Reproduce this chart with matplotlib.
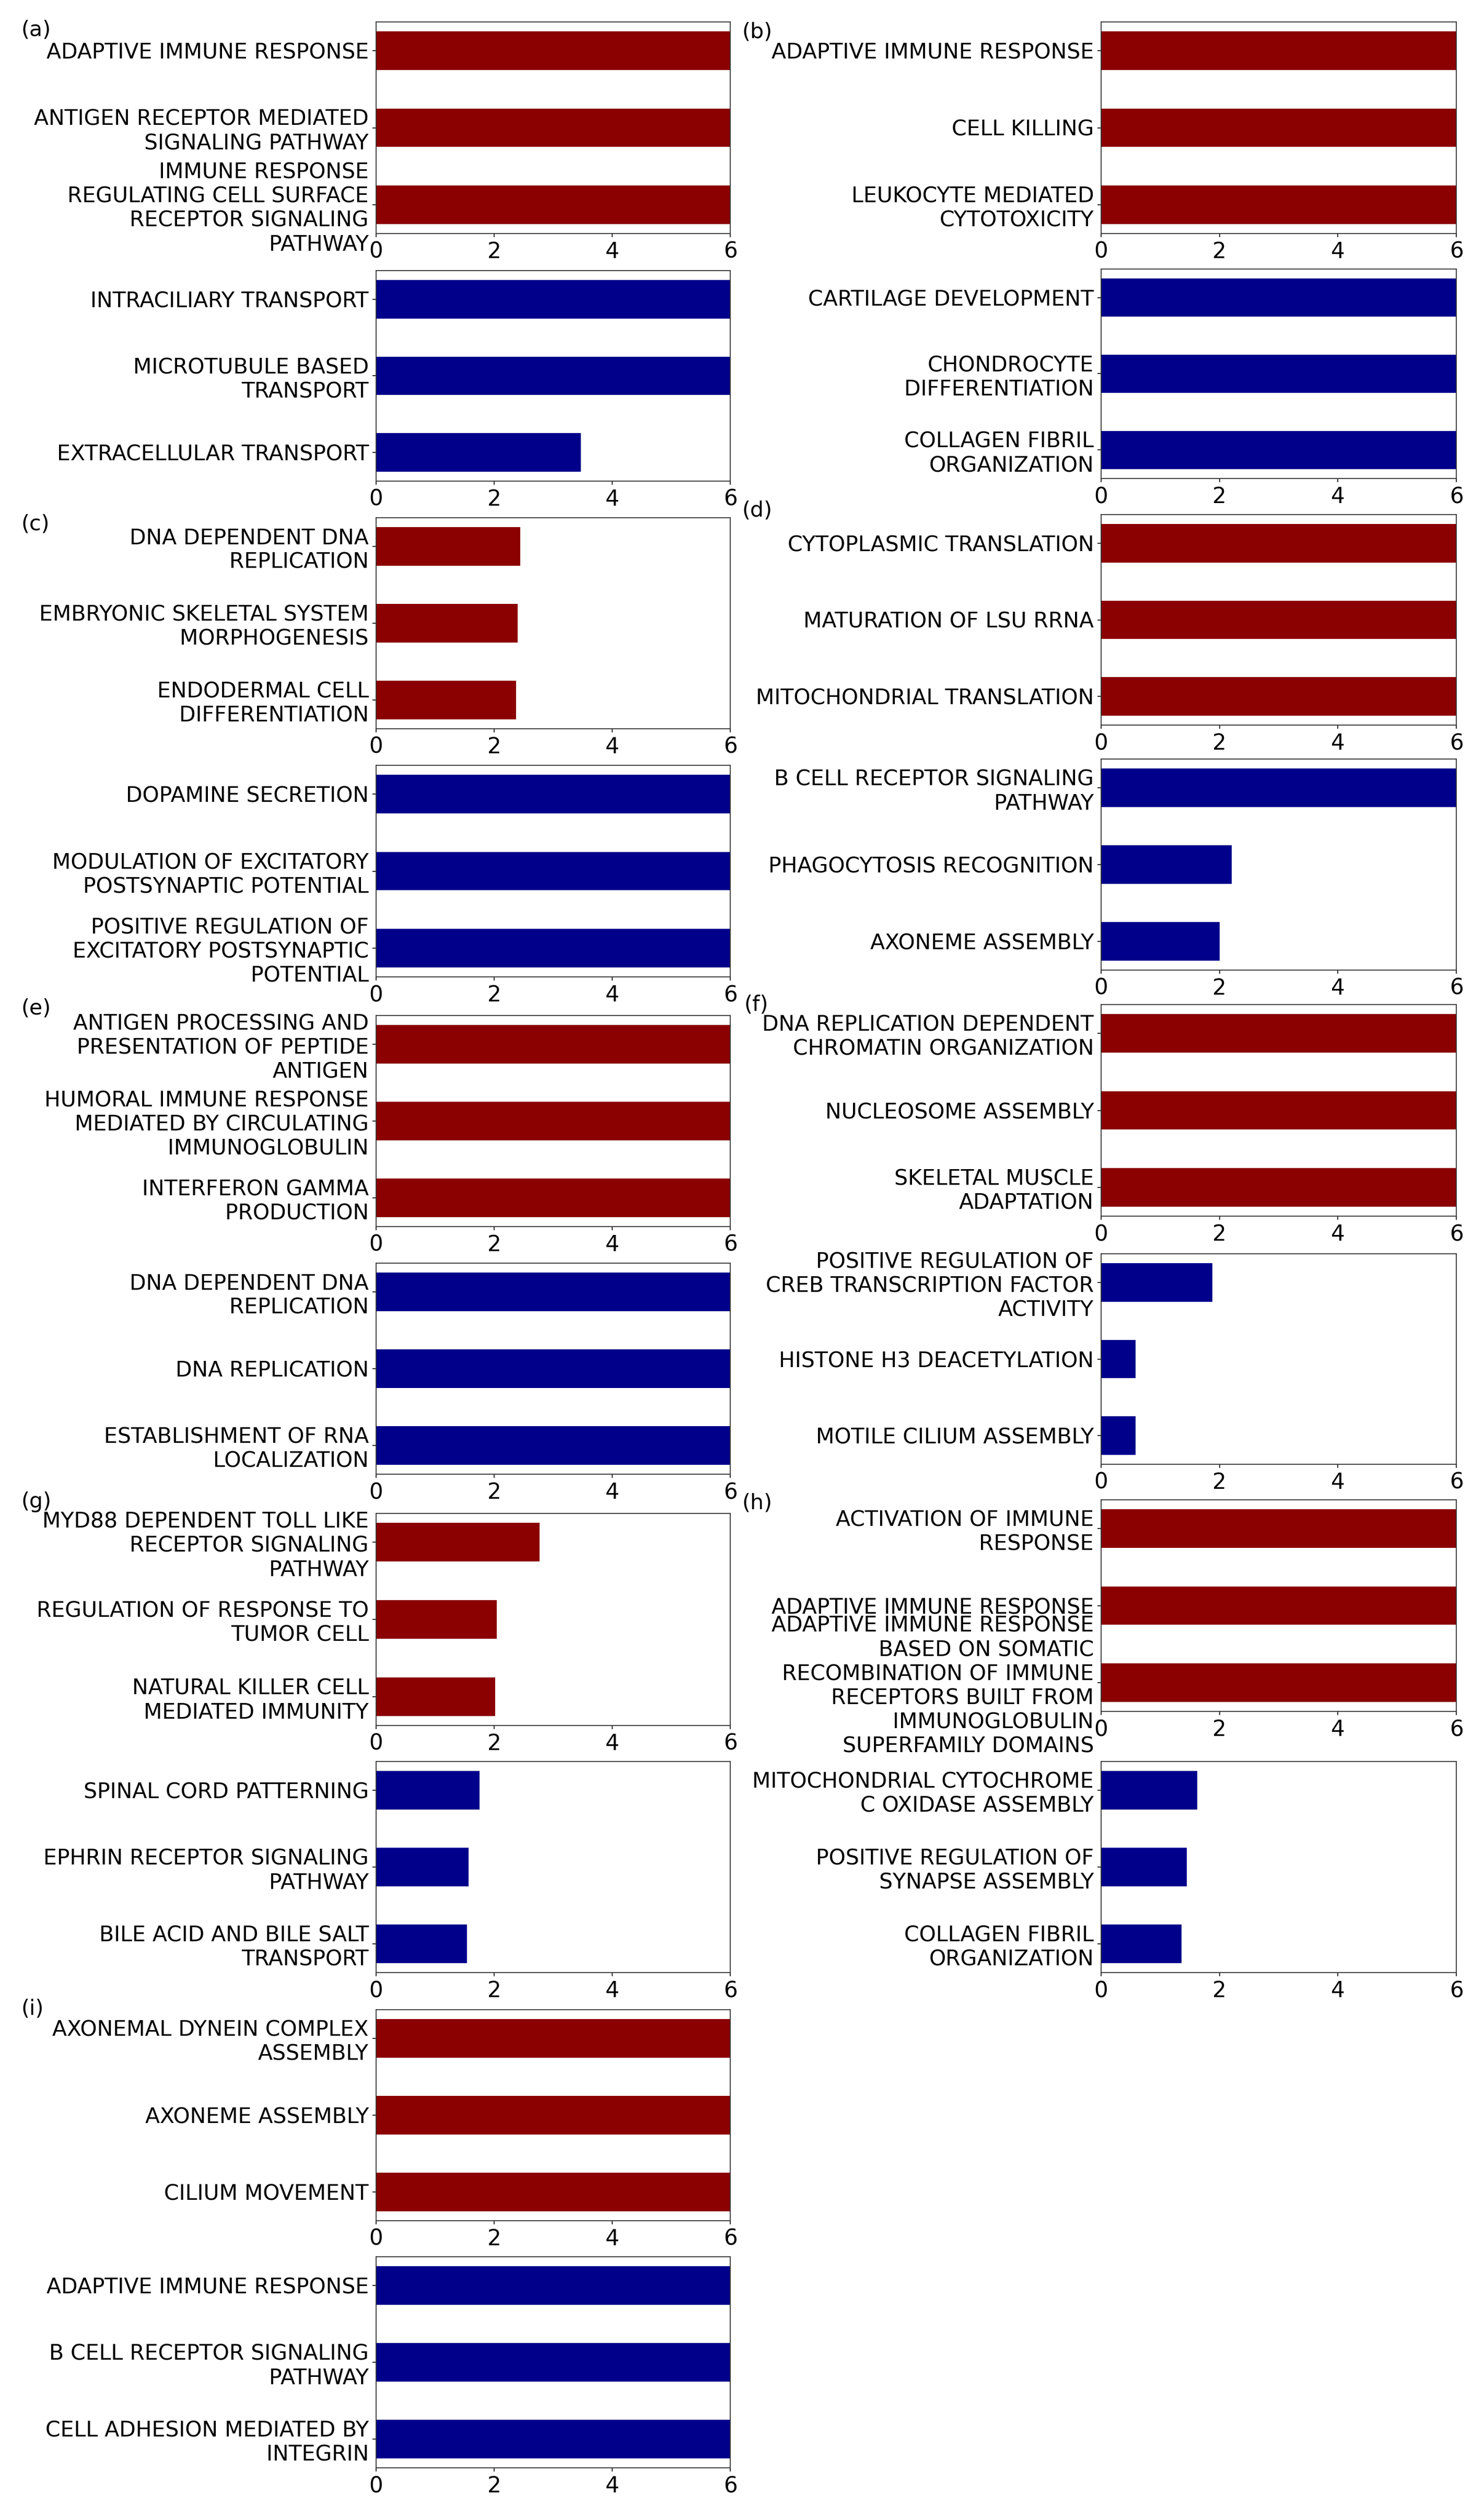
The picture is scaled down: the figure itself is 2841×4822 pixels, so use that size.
import textwrap
import matplotlib
matplotlib.use("Agg")
import matplotlib.pyplot as plt

# ---------------- data ----------------
a_up_terms = ["ADAPTIVE IMMUNE RESPONSE", "ANTIGEN RECEPTOR MEDIATED SIGNALING PATHWAY",
              "IMMUNE RESPONSE REGULATING CELL SURFACE RECEPTOR SIGNALING PATHWAY"]
a_up_vals = [6.0, 6.0, 6.0]
a_down_terms = ["INTRACILIARY TRANSPORT", "MICROTUBULE BASED TRANSPORT", "EXTRACELLULAR TRANSPORT"]
a_down_vals = [6.0, 6.0, 3.47]

b_up_terms = ["ADAPTIVE IMMUNE RESPONSE", "CELL KILLING", "LEUKOCYTE MEDIATED CYTOTOXICITY"]
b_up_vals = [6.0, 6.0, 6.0]
b_down_terms = ["CARTILAGE DEVELOPMENT", "CHONDROCYTE DIFFERENTIATION", "COLLAGEN FIBRIL ORGANIZATION"]
b_down_vals = [6.0, 6.0, 6.0]

c_up_terms = ["DNA DEPENDENT DNA REPLICATION", "EMBRYONIC SKELETAL SYSTEM MORPHOGENESIS",
              "ENDODERMAL CELL DIFFERENTIATION"]
c_up_vals = [2.44, 2.40, 2.37]
c_down_terms = ["DOPAMINE SECRETION", "MODULATION OF EXCITATORY POSTSYNAPTIC POTENTIAL",
                "POSITIVE REGULATION OF EXCITATORY POSTSYNAPTIC POTENTIAL"]
c_down_vals = [6.0, 6.0, 6.0]

d_up_terms = ["CYTOPLASMIC TRANSLATION", "MATURATION OF LSU RRNA", "MITOCHONDRIAL TRANSLATION"]
d_up_vals = [6.0, 6.0, 6.0]
d_down_terms = ["B CELL RECEPTOR SIGNALING PATHWAY", "PHAGOCYTOSIS RECOGNITION", "AXONEME ASSEMBLY"]
d_down_vals = [6.0, 2.21, 2.0]

e_up_terms = ["ANTIGEN PROCESSING AND PRESENTATION OF PEPTIDE ANTIGEN",
              "HUMORAL IMMUNE RESPONSE MEDIATED BY CIRCULATING IMMUNOGLOBULIN",
              "INTERFERON GAMMA PRODUCTION"]
e_up_vals = [6.0, 6.0, 6.0]
e_down_terms = ["DNA DEPENDENT DNA REPLICATION", "DNA REPLICATION", "ESTABLISHMENT OF RNA LOCALIZATION"]
e_down_vals = [6.0, 6.0, 6.0]

f_up_terms = ["DNA REPLICATION DEPENDENT CHROMATIN ORGANIZATION", "NUCLEOSOME ASSEMBLY",
              "SKELETAL MUSCLE ADAPTATION"]
f_up_vals = [6.0, 6.0, 6.0]
f_down_terms = ["POSITIVE REGULATION OF CREB TRANSCRIPTION FACTOR ACTIVITY",
                "HISTONE H3 DEACETYLATION", "MOTILE CILIUM ASSEMBLY"]
f_down_vals = [1.88, 0.58, 0.58]

g_up_terms = ["MYD88 DEPENDENT TOLL LIKE RECEPTOR SIGNALING PATHWAY",
              "REGULATION OF RESPONSE TO TUMOR CELL", "NATURAL KILLER CELL MEDIATED IMMUNITY"]
g_up_vals = [2.77, 2.04, 2.02]
g_down_terms = ["SPINAL CORD PATTERNING", "EPHRIN RECEPTOR SIGNALING PATHWAY",
                "BILE ACID AND BILE SALT TRANSPORT"]
g_down_vals = [1.75, 1.57, 1.54]

h_up_terms = ["ACTIVATION OF IMMUNE RESPONSE", "ADAPTIVE IMMUNE RESPONSE",
              "ADAPTIVE IMMUNE RESPONSE BASED ON SOMATIC RECOMBINATION OF IMMUNE RECEPTORS "
              "BUILT FROM IMMUNOGLOBULIN SUPERFAMILY DOMAINS"]
h_up_vals = [6.0, 6.0, 6.0]
h_down_terms = ["MITOCHONDRIAL CYTOCHROME C OXIDASE ASSEMBLY",
                "POSITIVE REGULATION OF SYNAPSE ASSEMBLY", "COLLAGEN FIBRIL ORGANIZATION"]
h_down_vals = [1.62, 1.45, 1.36]

i_up_terms = ["AXONEMAL DYNEIN COMPLEX ASSEMBLY", "AXONEME ASSEMBLY", "CILIUM MOVEMENT"]
i_up_vals = [6.0, 6.0, 6.0]
i_down_terms = ["ADAPTIVE IMMUNE RESPONSE", "B CELL RECEPTOR SIGNALING PATHWAY",
                "CELL ADHESION MEDIATED BY INTEGRIN"]
i_down_vals = [6.0, 6.0, 6.0]

panel_letters = ["a", "b", "c", "d", "e", "f", "g", "h", "i"]
xticks = [0, 2, 4, 6]

panels = {
    "a": (a_up_terms, a_up_vals, a_down_terms, a_down_vals),
    "b": (b_up_terms, b_up_vals, b_down_terms, b_down_vals),
    "c": (c_up_terms, c_up_vals, c_down_terms, c_down_vals),
    "d": (d_up_terms, d_up_vals, d_down_terms, d_down_vals),
    "e": (e_up_terms, e_up_vals, e_down_terms, e_down_vals),
    "f": (f_up_terms, f_up_vals, f_down_terms, f_down_vals),
    "g": (g_up_terms, g_up_vals, g_down_terms, g_down_vals),
    "h": (h_up_terms, h_up_vals, h_down_terms, h_down_vals),
    "i": (i_up_terms, i_up_vals, i_down_terms, i_down_vals),
}

# ---------------- layout (pixels) ----------------
W, H = 2841, 4822
DPI = 144
FS = 20.5
UP_COLOR = "#8B0000"
DOWN_COLOR = "#00008B"

col_x = {"L": (720, 1398), "R": (2108, 2788)}
layout = {
    # letter: column, (up top, up bottom), (down top, down bottom), label (x, y)
    "a": ("L", (42, 447), (518, 921), (41, 58)),
    "b": ("R", (42, 447), (515, 916), (1420, 62)),
    "c": ("L", (991, 1395), (1465, 1870), (41, 1003)),
    "d": ("R", (985, 1388), (1453, 1857), (1420, 977)),
    "e": ("L", (1944, 2348), (2418, 2822), (41, 1930)),
    "f": ("R", (1923, 2328), (2400, 2803), (1425, 1924)),
    "g": ("L", (2897, 3303), (3372, 3776), (41, 2875)),
    "h": ("R", (2871, 3276), (3372, 3776), (1420, 2877)),
    "i": ("L", (3847, 4251), (4320, 4724), (41, 3846)),
}

plt.rcParams["font.family"] = ["DejaVu Sans"]
fig = plt.figure(figsize=(W / DPI, H / DPI), dpi=DPI)


def make_ax(x0, x1, y0, y1):
    return fig.add_axes([x0 / W, 1 - y1 / H, (x1 - x0) / W, (y1 - y0) / H])


def draw(ax, terms, vals, color):
    pos = list(range(len(terms)))
    ax.barh(pos, vals, height=0.5, color=color)
    ax.set_yticks(pos)
    ax.set_yticklabels(["\n".join(textwrap.wrap(t, 25)) for t in terms], fontsize=FS)
    ax.invert_yaxis()
    ax.set_xlim(0, 6)
    ax.set_xticks(xticks)
    ax.tick_params(axis="x", labelsize=FS + 0.5)
    for s in ax.spines.values():
        s.set_linewidth(0.9)
        s.set_color("#333333")


for letter in panel_letters:
    up_t, up_v, dn_t, dn_v = panels[letter]
    col, (u0, u1), (d0, d1), (lx, ly) = layout[letter]
    x0, x1 = col_x[col]
    ax_up = make_ax(x0, x1, u0, u1)
    draw(ax_up, up_t, up_v, UP_COLOR)
    ax_dn = make_ax(x0, x1, d0, d1)
    draw(ax_dn, dn_t, dn_v, DOWN_COLOR)
    fig.text(lx / W, 1 - ly / H, f"({letter})", fontsize=FS, ha="left", va="center")

fig.savefig("out.png", dpi=DPI)
